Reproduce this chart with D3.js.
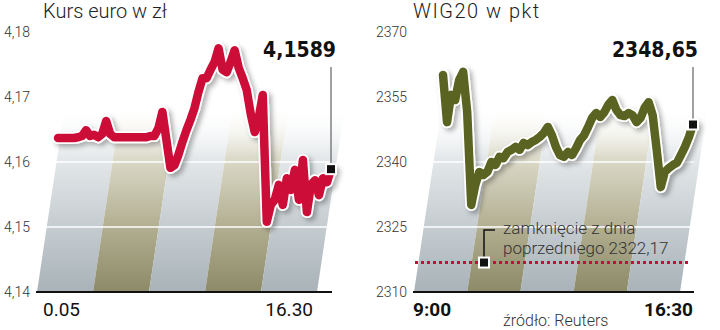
<!DOCTYPE html>
<html>
<head>
<meta charset="utf-8">
<script src="https://cdn.jsdelivr.net/npm/d3@7"></script>
<style>
  body { margin: 0; background: #fff; }
  svg { display: block; }
  .light { font-family: Roboto, "Open Sans", sans-serif; font-weight: 300; }
  .num { font-family: "DejaVu Sans Condensed", "DejaVu Sans", sans-serif; font-stretch: condensed; font-weight: bold; }
</style>
</head>
<body>
<script>
// kurs euro (zł), odczyt co ok. 4 px z wykresu
const euroValues = [
  4.1637, 4.1637, 4.1637, 4.1637, 4.1637, 4.1638, 4.1640, 4.1649, 4.1640, 4.1642,
  4.1638, 4.1643, 4.1663, 4.1643, 4.1638, 4.1638, 4.1638, 4.1638, 4.1638, 4.1638,
  4.1638, 4.1638, 4.1638, 4.1640, 4.1640, 4.1652, 4.1677, 4.1634, 4.1591, 4.1595,
  4.1611, 4.1631, 4.1649, 4.1665, 4.1683, 4.1708, 4.1729, 4.1729, 4.1742, 4.1754,
  4.1775, 4.1742, 4.1738, 4.1754, 4.1772, 4.1745, 4.1729, 4.1711, 4.1674, 4.1646,
  4.1668, 4.1703, 4.1508, 4.1534, 4.1542, 4.1565, 4.1534, 4.1575, 4.1557, 4.1588,
  4.1542, 4.1603, 4.1523, 4.1565, 4.1572, 4.1549, 4.1575, 4.1569, 4.1589
];
// WIG20 (pkt)
const wigValues = [
  2360.1, 2349.2, 2355.5, 2354.3, 2358.9, 2360.8, 2351.5, 2330.1, 2334.7, 2337.7,
  2337.0, 2337.7, 2340.0, 2339.3, 2341.2, 2340.9, 2342.3, 2342.8, 2343.5, 2342.8,
  2344.4, 2343.9, 2344.6, 2345.1, 2345.8, 2346.7, 2348.1, 2346.2, 2343.5, 2341.6,
  2341.2, 2342.3, 2341.6, 2343.2, 2345.1, 2346.2, 2348.1, 2350.2, 2351.3, 2350.4,
  2351.5, 2353.2, 2354.3, 2352.0, 2350.8, 2350.6, 2351.3, 2350.8, 2349.2, 2350.2,
  2352.5, 2353.8, 2350.8, 2342.8, 2334.2, 2337.7, 2338.6, 2339.3, 2339.8, 2341.6,
  2343.5, 2345.8, 2348.65
];

const euroTicks = [4.14, 4.15, 4.16, 4.17, 4.18];
const wigTicks = [2310, 2325, 2340, 2355, 2370];
const euroTimes = ["0.05", "16.30"];
const wigTimes = ["9:00", "16:30"];
const euroLast = 4.1589;
const wigLast = 2348.65;
const wigPrevClose = 2322.17;
const wigPrevCloseDrawn = 2316.8; // tak narysowana w oryginale
const prevCloseText = ["zamknięcie z dnia", "poprzedniego "];

const pl = d3.formatLocale({decimal: ",", thousands: " ", grouping: [3], currency: ["", " zł"]});

const svg = d3.select("body").append("svg")
  .attr("width", 720)
  .attr("height", 330);

const defs = svg.append("defs");

defs.append("filter")
    .attr("id", "shadow")
    .attr("x", "-20%").attr("y", "-20%")
    .attr("width", "140%").attr("height", "140%")
  .append("feDropShadow")
    .attr("dx", 3).attr("dy", 3)
    .attr("stdDeviation", 2.5)
    .attr("flood-color", "#000")
    .attr("flood-opacity", 0.3);

function gradient(id, stops, y0, y1) {
  const g = defs.append("linearGradient")
    .attr("id", id)
    .attr("gradientUnits", "userSpaceOnUse")
    .attr("x1", 0).attr("x2", 0)
    .attr("y1", y0).attr("y2", y1);
  stops.forEach(s => g.append("stop").attr("offset", s[0]).attr("stop-color", s[1]).attr("stop-opacity", s[2]));
}

gradient("gGrey", [[0, "#a8b2b8", 1], [0.36, "#c6cdd1", 1], [0.72, "#e4e8ea", 1], [1, "#ffffff", 0]], 292, 105);
gradient("gOlive", [[0, "#8d8a68", 1], [0.36, "#b3b093", 1], [0.72, "#dcdac9", 1], [1, "#ffffff", 0]], 292, 105);

function drawPanel(cfg) {
  const x = d3.scaleLinear()
    .domain([0, cfg.values.length - 1])
    .range(cfg.lineRange);

  const y = d3.scaleLinear()
    .domain(d3.extent(cfg.ticks))
    .range([292, 32]);

  const g = svg.append("g");

  // ukośne pasy w tle
  const band = d3.scaleBand()
    .domain(d3.range(5))
    .range(cfg.stripeRange);
  const yTop = 105, slant = 0.15;
  g.selectAll("polygon")
    .data(band.domain())
    .enter().append("polygon")
      .attr("points", i => {
        const x0 = band(i), x1 = band(i) + band.bandwidth();
        const s = (292 - yTop) * slant;
        return [[x0, 292], [x1, 292], [x1 + s, yTop], [x0 + s, yTop]].join(" ");
      })
      .attr("fill", i => i % 2 ? "url(#gOlive)" : "url(#gGrey)");

  // linie siatki
  g.selectAll("line.grid")
    .data(cfg.ticks.slice(1))
    .enter().append("line")
      .attr("class", "grid")
      .attr("x1", cfg.axisRange[0]).attr("x2", cfg.axisRange[1])
      .attr("y1", d => y(d)).attr("y2", d => y(d))
      .attr("stroke", "#fff")
      .attr("stroke-width", 1.5);

  // oś
  g.append("line")
    .attr("x1", cfg.axisRange[0]).attr("x2", cfg.axisRange[1])
    .attr("y1", y(cfg.ticks[0])).attr("y2", y(cfg.ticks[0]))
    .attr("stroke", "#111")
    .attr("stroke-width", 2);

  const yAxis = g.append("g")
    .attr("transform", `translate(${cfg.labelX},0)`)
    .call(d3.axisLeft(y).tickValues(cfg.ticks).tickSize(0).tickPadding(0).tickFormat(pl.format(cfg.fmt)));
  yAxis.select(".domain").remove();
  yAxis.selectAll("text")
    .attr("class", "light")
    .attr("font-size", 14)
    .attr("fill", "#333");

  cfg.extra && cfg.extra(g, x, y);

  // wartości
  const line = d3.line()
    .x((d, i) => x(i))
    .y(d => y(d));

  const lg = g.append("g").attr("filter", "url(#shadow)");
  lg.append("path")
    .datum(cfg.values)
    .attr("d", line)
    .attr("fill", "none")
    .attr("stroke", "#fff")
    .attr("stroke-width", 12)
    .attr("stroke-linejoin", "round")
    .attr("stroke-linecap", "round");
  lg.append("path")
    .datum(cfg.values)
    .attr("d", line)
    .attr("fill", "none")
    .attr("stroke", cfg.color)
    .attr("stroke-width", 8.5)
    .attr("stroke-linejoin", "round")
    .attr("stroke-linecap", "round");

  // ostatnia wartość
  const lx = x(cfg.values.length - 1), ly = y(cfg.last);
  g.append("line")
    .attr("x1", lx).attr("x2", lx)
    .attr("y1", 67).attr("y2", ly)
    .attr("stroke", "#444")
    .attr("stroke-width", 1);
  g.append("rect")
    .attr("x", lx - 5).attr("y", ly - 5)
    .attr("width", 10).attr("height", 10)
    .attr("fill", "#111")
    .attr("stroke", "#fff")
    .attr("stroke-width", 2);
  g.append("text")
    .attr("class", "num")
    .attr("x", lx + 5).attr("y", 57)
    .attr("text-anchor", "end")
    .attr("font-size", 21)
    .attr("fill", "#111")
    .text(pl.format(cfg.lastFmt)(cfg.last));

  // tytuł
  g.append("text")
    .attr("class", "light")
    .attr("x", cfg.titleX).attr("y", 18)
    .attr("font-size", 20)
    .attr("letter-spacing", cfg.titleSpacing)
    .attr("fill", "#222")
    .text(cfg.title);

  // czas
  g.append("text")
    .attr("x", cfg.axisRange[0] + cfg.timePad[0]).attr("y", 316)
    .attr("font-family", "Roboto, sans-serif")
    .attr("font-weight", cfg.timeWeight)
    .attr("font-size", 19)
    .attr("fill", "#111")
    .text(cfg.times[0]);
  g.append("text")
    .attr("x", cfg.axisRange[1] - cfg.timePad[1]).attr("y", 316)
    .attr("text-anchor", "end")
    .attr("font-family", "Roboto, sans-serif")
    .attr("font-weight", cfg.timeWeight)
    .attr("font-size", 19)
    .attr("fill", "#111")
    .text(cfg.times[1]);
}

drawPanel({
  values: euroValues,
  ticks: euroTicks,
  fmt: ".2f",
  last: euroLast,
  lastFmt: ".4f",
  title: "Kurs euro w zł",
  titleX: 43,
  titleSpacing: 0,
  times: euroTimes,
  timePad: [7, 19],
  timeWeight: 400,
  color: "#cc0c38",
  lineRange: [58, 331],
  axisRange: [36, 332],
  stripeRange: [37, 317],
  labelX: 30
});

drawPanel({
  values: wigValues,
  ticks: wigTicks,
  fmt: "d",
  last: wigLast,
  lastFmt: ".2f",
  title: "WIG20 w pkt",
  titleX: 413,
  titleSpacing: 1.5,
  times: wigTimes,
  timePad: [0, 1],
  timeWeight: 700,
  color: "#5a6420",
  lineRange: [443, 693],
  axisRange: [413, 694],
  stripeRange: [414, 680],
  labelX: 407,
  extra: (g, x, y) => {
    const py = y(wigPrevCloseDrawn);
    g.append("line")
      .attr("x1", 415).attr("x2", 688)
      .attr("y1", py).attr("y2", py)
      .attr("stroke", "#c0103c")
      .attr("stroke-width", 3)
      .attr("stroke-dasharray", "3,3");
    g.append("path")
      .attr("d", `M484,${py}V230H495`)
      .attr("fill", "none")
      .attr("stroke", "#111")
      .attr("stroke-width", 1.5);
    g.append("rect")
      .attr("x", 479).attr("y", py - 5)
      .attr("width", 10).attr("height", 10)
      .attr("fill", "#111")
      .attr("stroke", "#fff")
      .attr("stroke-width", 2);
    const t = g.append("text")
      .attr("class", "light")
      .attr("font-size", 17)
      .attr("fill", "#333");
    t.append("tspan").attr("x", 503).attr("y", 234).text(prevCloseText[0]);
    t.append("tspan").attr("x", 503).attr("y", 254).text(prevCloseText[1] + pl.format(".2f")(wigPrevClose));
  }
});

svg.append("text")
  .attr("class", "light")
  .attr("x", 503).attr("y", 326)
  .attr("font-size", 16)
  .attr("fill", "#333")
  .text("źródło: Reuters");
</script>
</body>
</html>
